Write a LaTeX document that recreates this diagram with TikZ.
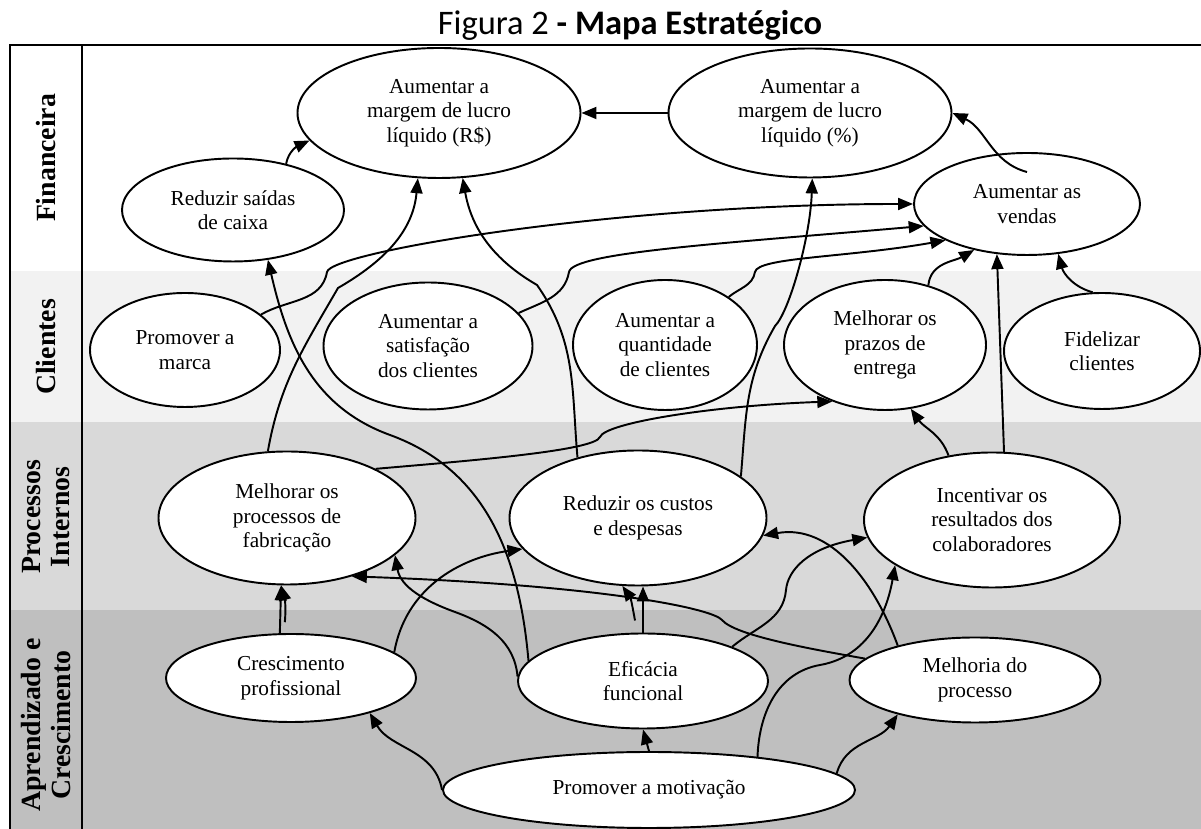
\documentclass[tikz,border=0pt]{standalone}
\usepackage{fontspec}
\setmainfont{Liberation Serif}
\newfontfamily\titfont{Carlito}
\usetikzlibrary{arrows.meta, shapes.geometric, calc}
\definecolor{bandA}{gray}{0.95}
\definecolor{bandB}{gray}{0.85}
\definecolor{bandC}{gray}{0.75}
\tikzset{
  obj/.style={ellipse, draw, fill=white, line width=0.55pt, inner sep=0pt, align=center, font=\fontsize{6.06pt}{6.97pt}\selectfont},
  lig/.style={->, >={Triangle[length=1.5mm, width=1.2mm]}, line width=0.55pt},
  pers/.style={rotate=90, align=center, font=\fontsize{7.9pt}{8.3pt}\selectfont\bfseries},
  moldura/.style={line width=0.7pt}
}

\begin{document}
\begin{tikzpicture}
	\useasboundingbox (0,0) rectangle (12.01,8.29);
	% bands
	\foreach \c/\a/\b in {bandA/4.07/5.58, bandB/2.19/4.07, bandC/0/2.19} {
		\fill[\c] (0.10,\a) rectangle (12.01,\b);
	}
	% frame
	\draw[moldura] (0.10,0) -- (0.10,7.84) -- (12.01,7.84);
	\draw[moldura] (0.82,0) -- (0.82,7.84);
	% title
	\node[anchor=base, font=\titfont\fontsize{9.8pt}{11pt}\selectfont] (tit) at (6.30,7.94) {Figura 2 \textbf{- Mapa Estratégico}};
	% perspectives
	\node[pers] (fin) at (0.46,6.71) {Financeira};
	\node[pers] (cli) at (0.46,4.82) {Clientes};
	\node[pers] (pro) at (0.46,3.12) {Processos\\Internos};
	\node[pers] (apr) at (0.46,1.04) {Aprendizado e\\Crescimento};
	% objectives
	\node[obj, minimum width=2.83cm, minimum height=1.30cm] (marRS) at (4.39,7.16) {Aumentar a\\margem de lucro\\líquido (R\$)};
	\node[obj, minimum width=2.83cm, minimum height=1.29cm] (marPct) at (8.10,7.16) {Aumentar a\\margem de lucro\\líquido (\%)};
	\node[obj, minimum width=2.22cm, minimum height=1.03cm] (caixa) at (2.33,6.19) {Reduzir saídas\\de caixa};
	\node[obj, minimum width=2.26cm, minimum height=1.02cm] (vendas) at (10.27,6.25) {Aumentar as\\vendas};
	\node[obj, minimum width=1.90cm, minimum height=1.14cm] (marca) at (1.85,4.79) {Promover a\\marca};
	\node[obj, minimum width=2.09cm, minimum height=1.27cm] (satisf) at (4.28,4.83) {Aumentar a\\satisfação\\dos clientes};
	\node[obj, minimum width=1.84cm, minimum height=1.30cm] (quant) at (6.65,4.84) {Aumentar a\\quantidade\\de clientes};
	\node[obj, minimum width=2.02cm, minimum height=1.30cm] (prazos) at (8.85,4.84) {Melhorar os\\prazos de\\entrega};
	\node[obj, minimum width=1.96cm, minimum height=1.16cm] (fidel) at (11.02,4.78) {Fidelizar\\clientes};
	\node[obj, minimum width=2.57cm, minimum height=1.33cm] (fabric) at (2.87,3.11) {Melhorar os\\processos de\\fabricação};
	\node[obj, minimum width=2.57cm, minimum height=1.35cm] (custos) at (6.38,3.11) {Reduzir os custos\\e despesas};
	\node[obj, minimum width=2.56cm, minimum height=1.35cm] (incent) at (9.92,3.09) {Incentivar os\\resultados dos\\colaboradores};
	\node[obj, minimum width=2.50cm, minimum height=0.88cm] (cresc) at (2.91,1.51) {Crescimento\\profissional};
	\node[obj, minimum width=2.50cm, minimum height=0.95cm] (efic) at (6.43,1.48) {Eficácia\\funcional};
	\node[obj, minimum width=2.51cm, minimum height=0.85cm] (melhoria) at (9.75,1.49) {Melhoria do\\processo};
	\node[obj, minimum width=4.12cm, minimum height=0.76cm] (motiv) at (6.49,0.39) {Promover a motivação};
	% financeira
	\draw[lig] (marPct) -- (marRS);
	\draw[lig] (caixa.41) to[out=80,in=205] (marRS.192);
	\draw[lig] ($(vendas.north)+(0,-0.2)$) to[out=165,in=-25] (marPct.east);
	% into vendas
	\draw[lig] (marca.25) to[out=30,in=-100] (3.27,5.57) to[out=80,in=180,out distance=0.2cm,in distance=3cm] (vendas.west);
	\draw[lig] (satisf.20) to[out=25,in=-100] (5.69,5.57) to[out=80,in=185,out distance=0.2cm,in distance=2cm] (vendas.192);
	\draw[lig] (quant.37) to[out=40,in=-100] (7.55,5.57) to[out=80,in=190,out distance=0.15cm,in distance=1cm] (vendas.204);
	\draw[lig] (prazos.54) to[out=85,in=210] (vendas.221);
	\draw[lig] (incent.80) -- (vendas.239);
	\draw[lig] (fidel.99) to[out=165,in=-75] (vendas.302);
	% into the margins
	\draw[lig] (fabric.106) to[out=80,in=-120] (3.38,5.41) to[out=30,in=-95] (marRS.252);
	\draw[lig] (custos.135) to[out=95,in=-55] (5.37,5.44) to[out=150,in=-80] (marRS.290);
	\draw[lig] (custos.22) to[out=85,in=-120] (7.75,5.03) to[out=45,in=-92,out distance=0.2cm] (marPct.272);
	\draw[lig] (efic.170) to[out=95,in=-20] (3.90,3.94) to[out=160,in=-77] (caixa.305);
	% into prazos
	\draw[lig] (fabric.29) to[out=5,in=-110,in distance=0.15cm] (6.00,3.92) to[out=70,in=182,out distance=0.15cm,in distance=1.2cm] (prazos.227);
	\draw[lig] (incent.124) to[out=110,in=-55] (prazos.292);
	% into fabric
	\draw[lig] (efic.178) to[out=95,in=-20] (4.55,2.17) to[out=160,in=-80] (fabric.341);
	\draw[lig] (cresc.104) -- (fabric.265);
	\draw[lig] ($(cresc.104)+(0.05,0.11)$) to[out=85,in=-75] (fabric.265);
	\draw[lig] (melhoria.169) to[out=170,in=-50,in distance=0.2cm] (7.22,2.09) to[out=130,in=-2,out distance=0.15cm,in distance=2.5cm] (fabric.318);
	% into custos
	\draw[lig] (melhoria.156) to[out=110,in=10] (custos.352);
	\draw[lig] (efic.north) -- (custos.south -| efic.north);
	\draw[lig] ($(efic.north)+(-0.08,0.12)$) to[out=100,in=-55] (custos.257);
	\draw[lig] (cresc.14) to[out=80,in=188] (custos.195);
	% into incent
	\draw[lig] (efic.21) to[out=40,in=-95] (7.86,2.39) to[out=85,in=190,out distance=0.2cm,in distance=0.6cm] (incent.188);
	\draw[lig] (motiv.17) to[out=88,in=190] (8.20,1.64) to[out=10,in=-100] (incent.205);
	% from motiv
	\draw[lig] (motiv.north) -- (efic.south);
	\draw[lig] (motiv.west) to[out=100,in=-60] (cresc.336);
	\draw[lig] (motiv.5) to[out=75,in=-125] (melhoria.204);
\end{tikzpicture}
\end{document}
